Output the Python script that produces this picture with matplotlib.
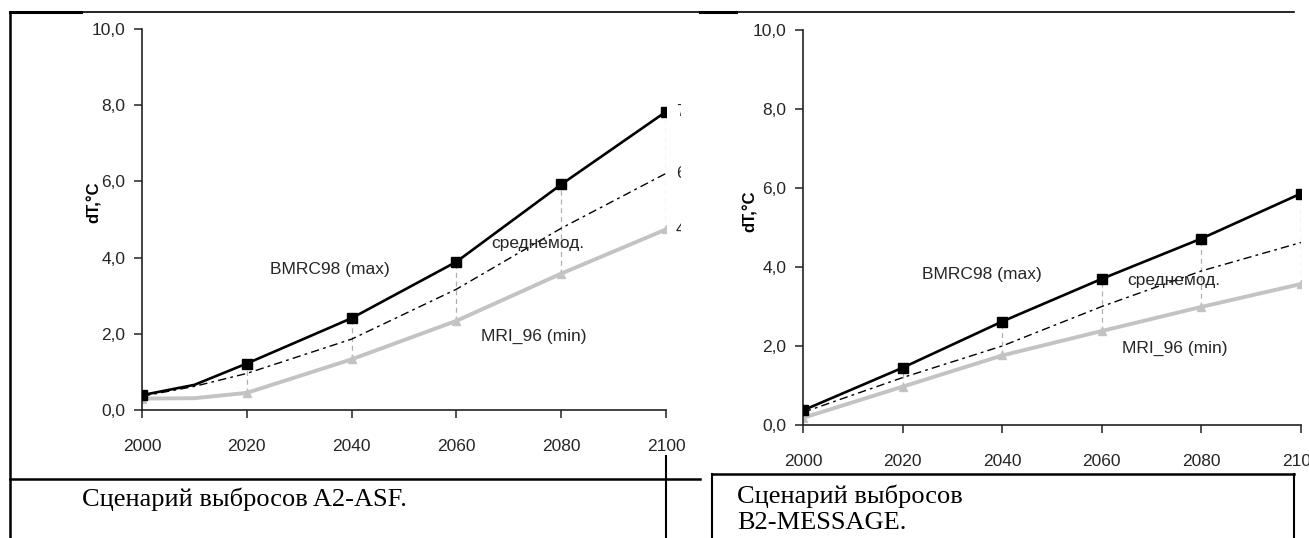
import matplotlib
matplotlib.use("Agg")
import matplotlib.pyplot as plt
from matplotlib import font_manager
from matplotlib.lines import Line2D
from matplotlib.patches import Rectangle

# ---------------- data ----------------
years_a2 = [2000, 2010, 2020, 2040, 2060, 2080, 2100]
max_a2 = [0.39, 0.66, 1.22, 2.41, 3.89, 5.92, 7.83]
mean_a2 = [0.36, 0.62, 0.96, 1.86, 3.17, 4.77, 6.21]
min_a2 = [0.30, 0.31, 0.45, 1.33, 2.34, 3.58, 4.74]
end_labels_a2 = ["7,8", "6,2", "4,7"]

years_b2 = [2000, 2020, 2040, 2060, 2080, 2100]
max_b2 = [0.37, 1.45, 2.62, 3.70, 4.72, 5.86]
mean_b2 = [0.32, 1.20, 2.00, 3.00, 3.90, 4.62]
min_b2 = [0.18, 0.97, 1.76, 2.38, 2.99, 3.57]

yticks = [0, 2, 4, 6, 8, 10]
xticks = [2000, 2020, 2040, 2060, 2080, 2100]
ylabel = "dT,\u00b0C"
lbl_max = "BMRC98 (max)"
lbl_mean = "среднемод."
lbl_min = "MRI_96 (min)"
caption_a2 = "Сценарий выбросов A2-ASF."
caption_b2_1 = "Сценарий выбросов"
caption_b2_2 = "B2-MESSAGE."

# ---------------- fonts ----------------
def have(name):
    try:
        font_manager.findfont(name, fallback_to_default=False)
        return True
    except Exception:
        return False

narrow = "Liberation Sans Narrow" if have("Liberation Sans Narrow") else "Liberation Sans"
nsize = 14 if narrow == "Liberation Sans Narrow" else 12.5
serif = "Liberation Serif"
TXT = "#262626"

W, H = 1309, 538
fig = plt.figure(figsize=(W / 100, H / 100), dpi=100)
fig.patch.set_facecolor("white")

def fx(px):
    return px / W

def fy(py):
    return 1 - py / H

GRAY = "#c3c3c3"

def make_panel(rect, years, mx, mn, lo, pad_x, labels_pos):
    ax = fig.add_axes(rect)
    ax.set_xlim(2000, 2100)
    ax.set_ylim(0, 10)
    for s in ["top", "right"]:
        ax.spines[s].set_visible(False)
    for s in ["left", "bottom"]:
        ax.spines[s].set_linewidth(1.2)
        ax.spines[s].set_color("#222222")
    ax.set_xticks(xticks)
    ax.set_yticks(yticks)
    ax.set_yticklabels([f"{v:.1f}".replace(".", ",") for v in yticks])
    ax.tick_params(axis="y", direction="out", length=6, width=1.1, pad=6,
                   colors="#222222", labelcolor=TXT, labelsize=nsize)
    ax.tick_params(axis="x", direction="out", length=6, width=1.1, pad=pad_x,
                   colors="#222222", labelcolor=TXT, labelsize=nsize)
    for t in ax.get_xticklabels() + ax.get_yticklabels():
        t.set_fontfamily(narrow)
    ax.patch.set_alpha(0)
    # drop lines between max and min
    for x, a, b in zip(years, mx, lo):
        if x % 20 == 0:
            ax.plot([x, x], [b, a], color="#b0b0b0", lw=0.9, ls=(0, (4, 3)), zorder=1)
    markevery = [i for i, x in enumerate(years) if x % 20 == 0]
    ax.plot(years, lo, color=GRAY, lw=2.8, marker="^", ms=6, mfc=GRAY, mec=GRAY,
            markevery=markevery, zorder=2)
    ax.plot(years, mn, color="black", lw=1.0, ls=(0, (6, 3, 2, 3)), zorder=3)
    ax.plot(years, mx, color="black", lw=1.9, marker="s", ms=6.5, mfc="black",
            mec="black", markevery=markevery, zorder=4)
    (bx, by), (cx, cy), (dx, dy) = labels_pos
    for (px, py, s) in [(bx, by, lbl_max), (cx, cy, lbl_mean), (dx, dy, lbl_min)]:
        ax.text(px, py, s, ha="center", va="center", fontsize=nsize,
                family=narrow, color=TXT, zorder=5)
    return ax

axL = make_panel([fx(142), fy(410), (666 - 142) / W, (410 - 29) / H],
                 years_a2, max_a2, mean_a2, min_a2, 15,
                 [(2035.9, 3.70), (2075.6, 4.38), (2074.8, 1.94)])
axR = make_panel([fx(803), fy(425), (1301 - 803) / W, (425 - 30) / H],
                 years_b2, max_b2, mean_b2, min_b2, 15,
                 [(2036.0, 3.82), (2074.5, 3.67), (2074.7, 1.95)])

# end-value labels on the left panel, clipped by the chart frame
clip = Rectangle((0, 0), fx(681), 1, transform=fig.transFigure, visible=False)
fig.add_artist(clip)
for val, lab in zip([max_a2[-1], mean_a2[-1], min_a2[-1]], end_labels_a2):
    t = axL.annotate(lab, xy=(2100, val), xytext=(7, 0), textcoords="offset points",
                     ha="left", va="center", fontsize=nsize, family=narrow,
                     color=TXT, annotation_clip=False)
    t.set_clip_path(clip)
    t.set_clip_on(True)

# y-axis titles
fig.text(fx(94), fy(202), ylabel, rotation=90, ha="center", va="center",
         fontsize=12, fontweight="bold", family="Liberation Sans")
fig.text(fx(750), fy(211), ylabel, rotation=90, ha="center", va="center",
         fontsize=12, fontweight="bold", family="Liberation Sans")

# table lines
def hline(x0, x1, y, lw=1.5):
    fig.add_artist(Line2D([fx(x0), fx(x1)], [fy(y), fy(y)], color="black", lw=lw,
                          transform=fig.transFigure))

def vline(x, y0, y1, lw=1.5):
    fig.add_artist(Line2D([fx(x), fx(x)], [fy(y0), fy(y1)], color="black", lw=lw,
                          transform=fig.transFigure))

hline(10, 700, 12, 1.2)
hline(700, 1294, 12, 1.2)
hline(10, 81, 12, 2.2)
hline(700, 736, 12, 2.2)
vline(10, 12, 538, 1.8)
hline(10, 700, 479, 1.8)
vline(666, 456, 538, 1.5)
hline(712, 1294, 474, 1.8)
vline(712, 474, 538, 1.5)
vline(1294, 474, 538, 1.5)

# captions
fig.text(fx(82), fy(499), caption_a2, ha="left", va="center", fontsize=19, family=serif)
fig.text(fx(737), fy(496), caption_b2_1, ha="left", va="center", fontsize=19, family=serif)
fig.text(fx(737), fy(523), caption_b2_2, ha="left", va="center", fontsize=19, family=serif)

fig.savefig("out.png", dpi=100, facecolor="white")
